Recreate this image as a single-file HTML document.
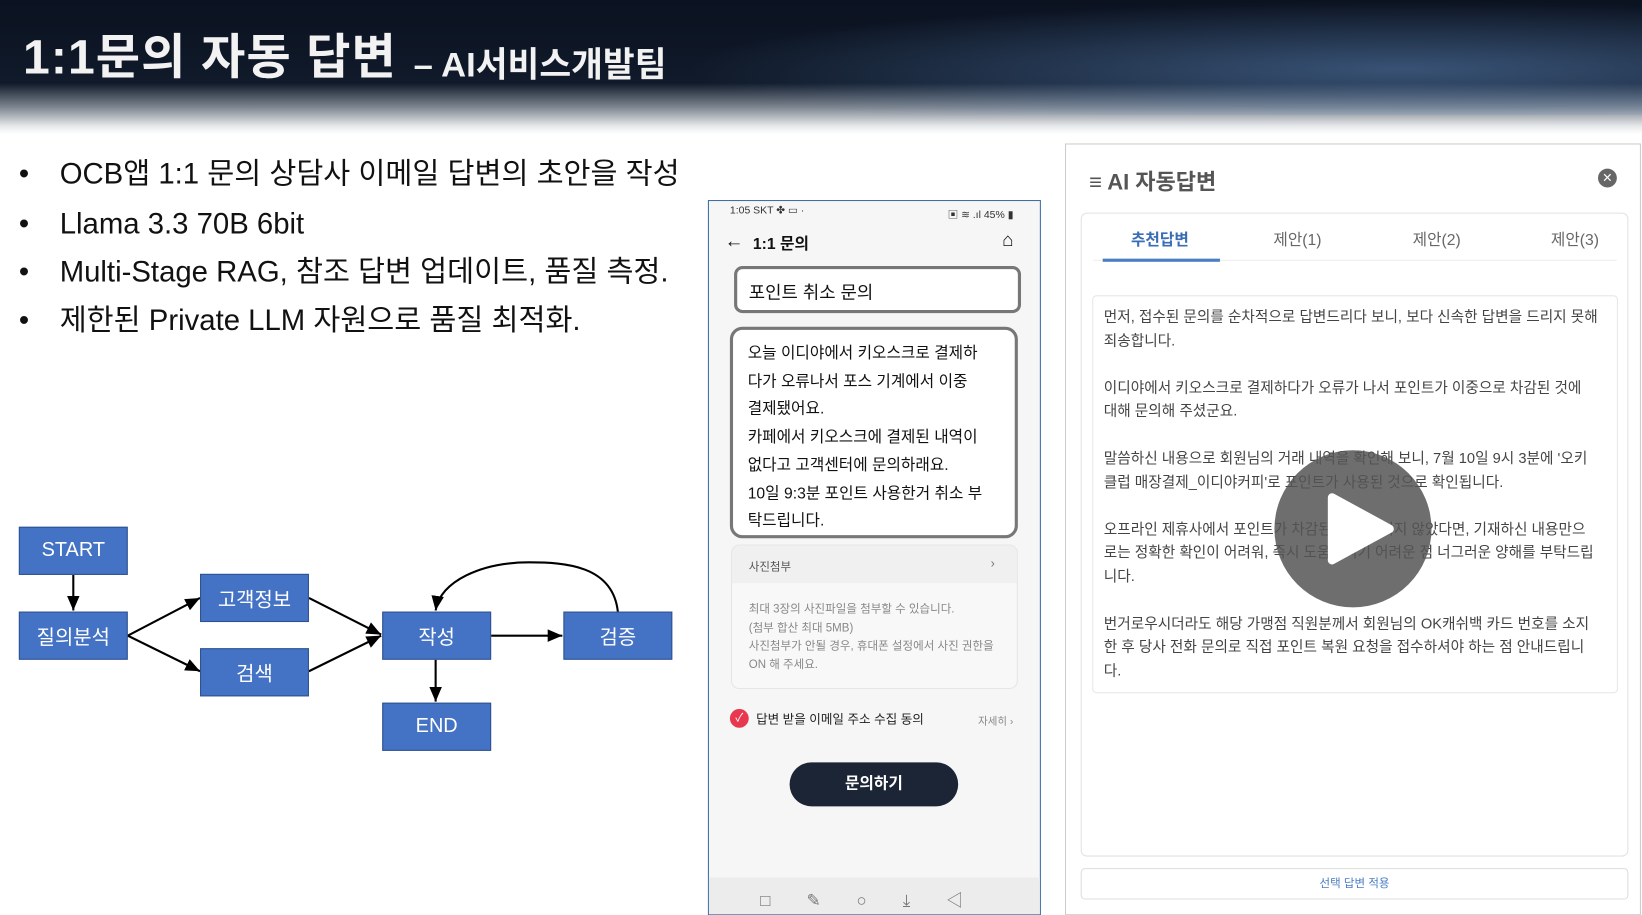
<!DOCTYPE html>
<html><head><meta charset="utf-8"><style>
*{margin:0;padding:0;box-sizing:border-box}
body{width:1642px;height:914px;position:relative;overflow:hidden;background:#fff;font-family:"Liberation Sans","Noto Sans CJK KR",sans-serif;color:#111}
#w{position:absolute;left:0;top:0;width:1568px;height:873px;transform:scale(1.04719);transform-origin:0 0}
.a{position:absolute;white-space:nowrap}
.hdr{position:absolute;left:0;top:0;width:1568px;height:128px;background:linear-gradient(180deg,#0b1220 0%,#101a2a 62%,#7d8590 80%,#e6e8ea 94%,#fff 100%)}
.hdr2{position:absolute;left:650px;top:0;width:918px;height:110px;background:radial-gradient(ellipse at 75% 60%,rgba(90,130,180,.55),rgba(20,35,60,0) 70%)}
.bl{font-size:28px;line-height:30px;color:#111}
.box{position:absolute;background:#4472c4;border:1px solid #2f528f;color:#fff;font-size:19px;display:flex;align-items:center;justify-content:center}
.ph{font-size:15px;color:#111}
.rt{font-size:14px;color:#444}
</style></head><body><div id="w">
<div class="hdr"></div><div class="hdr2"></div>
<div class="a" style="left:22px;top:18px;font-size:46px;letter-spacing:1px;font-weight:bold;color:#f2f2f2">1:1문의 자동 답변</div>
<div class="a" style="left:395px;top:35px;font-size:33px;font-weight:bold;color:#f2f2f2">– AI서비스개발팀</div>

<div class="a bl" style="left:18px;top:151px">•</div><div class="a bl" style="left:57px;top:151px">OCB앱 1:1 문의 상담사 이메일 답변의 초안을 작성</div>
<div class="a bl" style="left:18px;top:199px">•</div><div class="a bl" style="left:57px;top:199px">Llama 3.3 70B 6bit</div>
<div class="a bl" style="left:18px;top:245px">•</div><div class="a bl" style="left:57px;top:245px">Multi-Stage RAG, 참조 답변 업데이트, 품질 측정.</div>
<div class="a bl" style="left:18px;top:291px">•</div><div class="a bl" style="left:57px;top:291px">제한된 Private LLM 자원으로 품질 최적화.</div>

<svg class="a" style="left:0;top:0" width="670" height="873">
<defs><marker id="m" markerWidth="8" markerHeight="8" refX="7" refY="4" orient="auto"><path d="M0,1 L7,4 L0,7z" fill="#000"/></marker></defs>
<g stroke="#000" stroke-width="2" fill="none" marker-end="url(#m)">
<line x1="70" y1="549" x2="70" y2="583"/>
<line x1="122" y1="607" x2="191" y2="571"/>
<line x1="122" y1="607" x2="191" y2="641"/>
<line x1="295" y1="571" x2="364" y2="606"/>
<line x1="295" y1="641" x2="364" y2="607"/>
<line x1="469" y1="607" x2="537" y2="607"/>
<line x1="416" y1="630" x2="416" y2="670"/>
<path d="M590,584 C585,540 540,537 505,537 C460,537 420,555 416,583"/>
</g></svg>
<div class="box" style="left:18px;top:503px;width:104px;height:46px">START</div>
<div class="box" style="left:18px;top:584px;width:104px;height:46px">질의분석</div>
<div class="box" style="left:191px;top:548px;width:104px;height:46px">고객정보</div>
<div class="box" style="left:191px;top:619px;width:104px;height:46px">검색</div>
<div class="box" style="left:365px;top:584px;width:104px;height:46px">작성</div>
<div class="box" style="left:538px;top:584px;width:104px;height:46px">검증</div>
<div class="box" style="left:365px;top:671px;width:104px;height:46px">END</div>

<div class="a" style="left:676px;top:191px;width:318px;height:683px;border:1px solid #3c6ea8;background:#f6f6f6"></div>
<div class="a" style="left:697px;top:196px;font-size:10px;color:#333">1:05 SKT ✤ ▭ ·</div>
<div class="a" style="left:905px;top:196px;font-size:10px;color:#333">▣ ≋ .ıl 45% ▮</div>
<div class="a" style="left:692px;top:220px;font-size:18px">←</div>
<div class="a" style="left:719px;top:222px;font-size:15px;font-weight:bold">1:1 문의</div>
<div class="a" style="left:957px;top:219px;font-size:18px">⌂</div>
<div class="a" style="left:701px;top:254px;width:274px;height:45px;border:3px solid #777;border-radius:8px;background:#fff"></div>
<div class="a ph" style="left:715px;top:265px;font-size:17px">포인트 취소 문의</div>
<div class="a" style="left:697px;top:312px;width:275px;height:202px;border:3px solid #777;border-radius:12px;background:#fff"></div>
<div class="a ph" style="left:714px;top:325px;line-height:26.7px">오늘 이디야에서 키오스크로 결제하<br>다가 오류나서 포스 기계에서 이중<br>결제됐어요.<br>카페에서 키오스크에 결제된 내역이<br>없다고 고객센터에 문의하래요.<br>10일 9:3분 포인트 사용한거 취소 부<br>탁드립니다.</div>
<div class="a" style="left:698px;top:520px;width:274px;height:138px;border:1px solid #e6e6e6;border-radius:8px;background:#f8f8f8;overflow:hidden"><div style="height:36px;background:#f0f0f0"></div></div>
<div class="a" style="left:715px;top:533px;font-size:11px;color:#555">사진첨부</div>
<div class="a" style="left:946px;top:531px;font-size:12px;color:#777">›</div>
<div class="a" style="left:715px;top:574px;font-size:11px;color:#888;line-height:17.5px">최대 3장의 사진파일을 첨부할 수 있습니다.<br>(첨부 합산 최대 5MB)<br>사진첨부가 안될 경우, 휴대폰 설정에서 사진 권한을<br>ON 해 주세요.</div>
<div class="a" style="left:697px;top:677px;width:18px;height:18px;border-radius:50%;background:#e8384f;color:#fff;font-size:11px;text-align:center;line-height:18px">✓</div>
<div class="a" style="left:722px;top:678px;font-size:12px;color:#222">답변 받을 이메일 주소 수집 동의</div>
<div class="a" style="left:934px;top:680px;font-size:10px;color:#888">자세히 ›</div>
<div class="a" style="left:754px;top:728px;width:161px;height:42px;border-radius:21px;background:#1b2535;color:#fff;font-size:15px;font-weight:bold;text-align:center;line-height:42px">문의하기</div>
<div class="a" style="left:677px;top:838px;width:316px;height:35px;background:#ececec"></div>
<div class="a" style="left:726px;top:846px;font-size:16px;color:#777;word-spacing:30px">□ ✎ ○ ⤓ ◁</div>

<div class="a" style="left:1017px;top:137px;width:550px;height:737px;border:1px solid #ccc;background:#fff"></div>
<div class="a" style="left:1040px;top:158px;font-size:21px;font-weight:bold;color:#555">≡ AI 자동답변</div>
<div class="a" style="left:1526px;top:161px;width:18px;height:18px;border-radius:50%;background:#666;color:#fff;font-size:12px;text-align:center;line-height:18px">✕</div>
<div class="a" style="left:1032px;top:203px;width:523px;height:615px;border:1px solid #e2e2e2;border-radius:6px"></div>
<div class="a" style="left:1044px;top:248px;width:500px;height:1px;background:#eee"></div>
<div class="a" style="left:1053px;top:247px;width:112px;height:3px;background:#4a7ec4"></div>
<div class="a" style="left:1080px;top:218px;font-size:15px;color:#3a6db4;font-weight:bold">추천답변</div>
<div class="a" style="left:1216px;top:218px;font-size:15px;color:#666">제안(1)</div>
<div class="a" style="left:1349px;top:218px;font-size:15px;color:#666">제안(2)</div>
<div class="a" style="left:1481px;top:218px;font-size:15px;color:#666">제안(3)</div>
<div class="a" style="left:1043px;top:282px;width:502px;height:380px;border:1px solid #e6e6e6;border-radius:4px"></div>
<div class="a rt" style="left:1054px;top:291px;line-height:22.5px">먼저, 접수된 문의를 순차적으로 답변드리다 보니, 보다 신속한 답변을 드리지 못해<br>죄송합니다.<br><br>이디야에서 키오스크로 결제하다가 오류가 나서 포인트가 이중으로 차감된 것에<br>대해 문의해 주셨군요.<br><br>말씀하신 내용으로 회원님의 거래 내역을 확인해 보니, 7월 10일 9시 3분에 '오키<br>클럽 매장결제_이디야커피'로 포인트가 사용된 것으로 확인됩니다.<br><br>오프라인 제휴사에서 포인트가 차감된 후 취소되지 않았다면, 기재하신 내용만으<br>로는 정확한 확인이 어려워, 즉시 도움드리기 어려운 점 너그러운 양해를 부탁드립<br>니다.<br><br>번거로우시더라도 해당 가맹점 직원분께서 회원님의 OK캐쉬백 카드 번호를 소지<br>한 후 당사 전화 문의로 직접 포인트 복원 요청을 접수하셔야 하는 점 안내드립니<br>다.</div>
<div class="a" style="left:1217px;top:430px;width:150px;height:150px;border-radius:50%;background:rgba(85,85,85,.85)"></div>
<svg class="a" style="left:1217px;top:430px" width="150" height="150"><path d="M55,45 L110,75 L55,105 Z" fill="#fff" stroke="#fff" stroke-width="8" stroke-linejoin="round"/></svg>
<div class="a" style="left:1032px;top:829px;width:523px;height:30px;border:1px solid #ddd;border-radius:4px;text-align:center;font-size:11px;color:#4a7ec4;line-height:28px">선택 답변 적용</div>
</div></body></html>
